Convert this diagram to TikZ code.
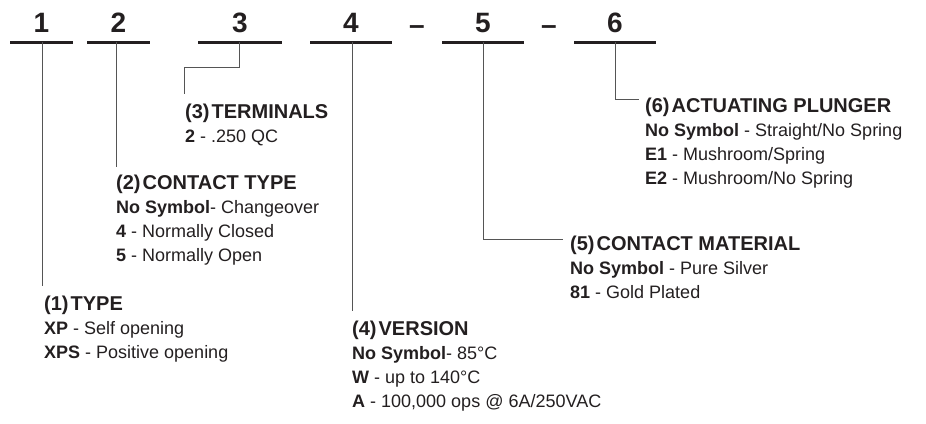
\documentclass[tikz,border=0pt]{standalone}
\usepackage{fontspec}
\setmainfont{Liberation Sans}
\usepackage{tikz}
\definecolor{ink}{HTML}{231F20}
\definecolor{leadgray}{HTML}{555555}

\begin{document}
\begin{tikzpicture}[x=1pt,y=-1pt,
  digit/.style={font=\fontsize{28}{30}\selectfont\bfseries,text=ink,anchor=base,inner sep=0pt},
  slot/.style={line width=3pt,ink},
  lead/.style={line width=0.7pt,leadgray},
  entry/.style={anchor=north west,align=left,inner sep=0pt,text=ink,font=\fontsize{18}{24}\selectfont}]
\useasboundingbox (0,0) rectangle (926,423);
% the six positions of the code
\foreach \n/\a/\b/\m in {1/10/73/42,2/87/150/116,3/198/282/239,4/310/392/352,5/442/524/483,6/574/656/615}{
  \draw[slot] (\a,42) -- (\b,42);
  \coordinate (u\n) at (\m,42);
  \node[digit] (d\n) at ({(\a+\b)/2},32) {\n};
}
\node[digit] (h1) at (417,34) {–};
\node[digit] (h2) at (549,34) {–};
% option blocks
\node[entry] (t1) at (44,295.5) {{\fontsize{20}{24}\selectfont\bfseries (1)\hspace{2pt}TYPE}\\
  \textbf{XP} - Self opening\\
  \textbf{XPS} - Positive opening};
\node[entry] (t2) at (116,174.5) {{\fontsize{20}{24}\selectfont\bfseries (2)\hspace{2pt}CONTACT TYPE}\\
  \textbf{No Symbol}- Changeover\\
  \textbf{4} - Normally Closed\\
  \textbf{5} - Normally Open};
\node[entry] (t3) at (185,104) {{\fontsize{20}{24}\selectfont\bfseries (3)\hspace{2pt}TERMINALS}\\
  \textbf{2} - .250 QC};
\node[entry] (t4) at (352,320.5) {{\fontsize{20}{24}\selectfont\bfseries (4)\hspace{2pt}VERSION}\\
  \textbf{No Symbol}- 85°C\\
  \textbf{W} - up to 140°C\\
  \textbf{A} - 100,000 ops @ 6A/250VAC};
\node[entry] (t5) at (570,235.5) {{\fontsize{20}{24}\selectfont\bfseries (5)\hspace{2pt}CONTACT MATERIAL}\\
  \textbf{No Symbol} - Pure Silver\\
  \textbf{81} - Gold Plated};
\node[entry] (t6) at (645,97.5) {{\fontsize{20}{24}\selectfont\bfseries (6)\hspace{2pt}ACTUATING PLUNGER}\\
  \textbf{No Symbol} - Straight/No Spring\\
  \textbf{E1} - Mushroom/Spring\\
  \textbf{E2} - Mushroom/No Spring};
% leaders
\draw[lead,shorten >=10pt] (u1) -- (u1 |- t1.north);
\draw[lead,shorten >=8pt] (u2) -- (u2 |- t2.north);
\coordinate (k3) at (239,67);
\draw[lead,shorten >=10pt] (u3) -- (k3) -| ([xshift=-1pt]t3.north west);
\draw[lead,shorten >=10pt] (u4) -- (u4 |- t4.north);
\draw[lead,shorten >=7pt] (u5) |- ([yshift=-4pt]t5.north west);
\draw[lead,shorten >=6pt] (u6) |- ([yshift=-2pt]t6.north west);
\end{tikzpicture}
\end{document}
